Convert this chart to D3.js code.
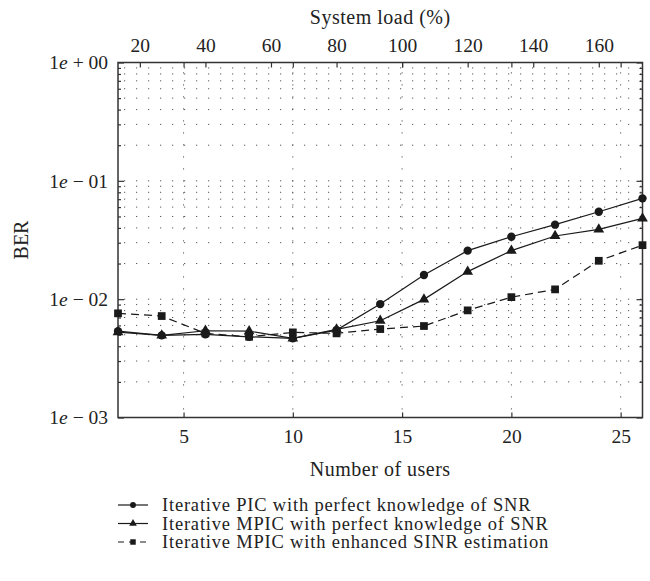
<!DOCTYPE html>
<html>
<head>
<meta charset="utf-8">
<script src="https://cdn.jsdelivr.net/npm/d3@7"></script>
<style>
  body { margin: 0; background: #fff; }
  text { font-family: "Liberation Serif", "DejaVu Serif", serif; fill: #222; }
</style>
</head>
<body>
<div id="chart"></div>
<script>
// --- Data ---
const users = [2, 4, 6, 8, 10, 12, 14, 16, 18, 20, 22, 24, 26];
const berPIC = [0.00537, 0.00494, 0.00504, 0.00481, 0.00466, 0.00548, 0.00909, 0.0160, 0.0257, 0.0337, 0.0426, 0.0548, 0.0711];
const berMPIC = [0.00527, 0.00494, 0.00541, 0.00537, 0.00466, 0.00556, 0.00657, 0.00996, 0.0171, 0.0257, 0.0342, 0.0389, 0.0482];
const berMPICEst = [0.00759, 0.00720, 0.00514, 0.00481, 0.00524, 0.00514, 0.00559, 0.00593, 0.00804, 0.0104, 0.0121, 0.0211, 0.0286];
const seriesNames = [
    "Iterative PIC with perfect knowledge of SNR",
    "Iterative MPIC with perfect knowledge of SNR",
    "Iterative MPIC with enhanced SINR estimation"
];
const userTicks = [5, 10, 15, 20, 25];
const loadTicks = [20, 40, 60, 80, 100, 120, 140, 160];
const berTicks = [1, 0.1, 0.01, 0.001];
const berTickLabels = ["00", "01", "02", "03"];
const spreadingFactor = 15; // load (%) = users / 15 * 100

// --- Layout ---
const w = 650;
const h = 581;
const plotLeft = 118, plotRight = 642.5, plotTop = 62.5, plotBottom = 417.5;

const svg = d3.select("#chart")
    .append("svg")
    .attr("width", w)
    .attr("height", h);

// Scales
const x = d3.scaleLinear().domain([2, 26]).range([plotLeft, plotRight]);
const xTop = d3.scaleLinear()
    .domain([2 * 100 / spreadingFactor, 26 * 100 / spreadingFactor])
    .range([plotLeft, plotRight]);
const y = d3.scaleLog().domain([1e-3, 1]).range([plotBottom, plotTop]);

// Dotted grid
const grid = svg.append("g")
    .attr("stroke", "#555")
    .attr("stroke-width", 1)
    .attr("stroke-dasharray", "1.2 10.8");

grid.selectAll(".hgrid")
    .data(y.ticks())
    .enter()
    .append("line")
    .attr("x1", plotLeft + 6)
    .attr("x2", plotRight)
    .attr("y1", d => y(d))
    .attr("y2", d => y(d));

grid.selectAll(".vgrid")
    .data(userTicks)
    .enter()
    .append("line")
    .attr("x1", d => x(d))
    .attr("x2", d => x(d))
    .attr("y1", plotBottom - 8)
    .attr("y2", plotTop);

// Axes (ticks point inward)
function styleAxis(g) {
    g.select(".domain").remove();
    g.selectAll(".tick line").attr("stroke", "#333").attr("stroke-width", 1.2);
    g.selectAll("text")
        .attr("font-family", "Liberation Serif, serif")
        .attr("font-size", "19.5px")
        .attr("fill", "#222");
}

svg.append("g")
    .attr("transform", `translate(0,${plotBottom})`)
    .call(d3.axisBottom(x).tickValues(userTicks).tickSize(-5).tickPadding(12))
    .call(styleAxis);

svg.append("g")
    .attr("transform", `translate(0,${plotTop})`)
    .call(d3.axisTop(x).tickValues(userTicks).tickSize(-5).tickFormat(""))
    .call(styleAxis);

svg.append("g")
    .attr("transform", `translate(0,${plotTop})`)
    .call(d3.axisTop(xTop).tickValues(loadTicks).tickSize(-5).tickPadding(11))
    .call(styleAxis);

// Minor log ticks on both sides
const minorTicks = y.ticks().filter(d => berTicks.indexOf(d) < 0);
svg.append("g")
    .attr("transform", `translate(${plotLeft},0)`)
    .call(d3.axisLeft(y).tickValues(minorTicks).tickSize(-3).tickFormat(""))
    .call(styleAxis);
svg.append("g")
    .attr("transform", `translate(${plotRight},0)`)
    .call(d3.axisRight(y).tickValues(minorTicks).tickSize(-3).tickFormat(""))
    .call(styleAxis);
svg.append("g")
    .attr("transform", `translate(${plotRight},0)`)
    .call(d3.axisRight(y).tickValues(berTicks).tickSize(-6).tickFormat(""))
    .call(styleAxis);

// Major log ticks with "1e − 01" style labels
const yAxis = svg.append("g")
    .attr("transform", `translate(${plotLeft},0)`)
    .call(d3.axisLeft(y).tickValues(berTicks).tickSize(-6).tickPadding(10))
    .call(styleAxis);

yAxis.selectAll(".tick text").each(function (d, i) {
    const t = d3.select(this).text("");
    t.append("tspan").text("1");
    t.append("tspan").attr("font-style", "italic").text("e");
    t.append("tspan").text(i === 0 ? " + " : " \u2212 ");
    t.append("tspan").text(berTickLabels[i]);
});

// Frame
svg.append("rect")
    .attr("x", plotLeft)
    .attr("y", plotTop)
    .attr("width", plotRight - plotLeft)
    .attr("height", plotBottom - plotTop)
    .attr("fill", "none")
    .attr("stroke", "#333")
    .attr("stroke-width", 1.5);

// Axis titles
svg.append("text")
    .attr("x", (plotLeft + plotRight) / 2)
    .attr("y", 24)
    .attr("text-anchor", "middle")
    .attr("font-size", "20px")
    .attr("letter-spacing", "0.5px")
    .text("System load (%)");

svg.append("text")
    .attr("x", (plotLeft + plotRight) / 2)
    .attr("y", 476)
    .attr("text-anchor", "middle")
    .attr("font-size", "20px")
    .attr("letter-spacing", "0.5px")
    .text("Number of users");

svg.append("text")
    .attr("transform", `translate(28,${(plotTop + plotBottom) / 2}) rotate(-90)`)
    .attr("text-anchor", "middle")
    .attr("font-size", "20px")
    .text("BER");

// Series
const series = [
    { name: seriesNames[0], values: berPIC, dash: null, marker: "circle" },
    { name: seriesNames[1], values: berMPIC, dash: null, marker: "triangle" },
    { name: seriesNames[2], values: berMPICEst, dash: "8 5", marker: "square" }
];

const line = d3.line()
    .x((d, i) => x(users[i]))
    .y(d => y(d));

const symbolType = {
    circle: d3.symbolCircle,
    triangle: d3.symbolTriangle,
    square: d3.symbolSquare
};
const symbolSize = { circle: 55, triangle: 50, square: 60 };

series.forEach(function (s) {
    svg.append("path")
        .datum(s.values)
        .attr("fill", "none")
        .attr("stroke", "#1a1a1a")
        .attr("stroke-width", 1.2)
        .attr("stroke-dasharray", s.dash)
        .attr("d", line);

    svg.append("g")
        .selectAll("path")
        .data(s.values)
        .enter()
        .append("path")
        .attr("transform", (d, i) => `translate(${x(users[i])},${y(d)})`)
        .attr("d", d3.symbol().type(symbolType[s.marker]).size(symbolSize[s.marker]))
        .attr("fill", "#1a1a1a");
});

// Legend
const legendY = [505, 523.5, 542];
const legend = svg.append("g");
series.forEach(function (s, i) {
    const g = legend.append("g").attr("transform", `translate(0,${legendY[i]})`);
    g.append("line")
        .attr("x1", 118)
        .attr("x2", 148)
        .attr("stroke", "#1a1a1a")
        .attr("stroke-width", 1.2)
        .attr("stroke-dasharray", s.dash ? "6 5" : null);
    g.append("path")
        .attr("transform", "translate(133,0)")
        .attr("d", d3.symbol().type(symbolType[s.marker]).size(symbolSize[s.marker] * 0.5))
        .attr("fill", "#1a1a1a");
    g.append("text")
        .attr("x", 162)
        .attr("y", 6)
        .attr("font-size", "18.5px")
        .attr("letter-spacing", "0.8px")
        .text(s.name);
});
</script>
</body>
</html>
